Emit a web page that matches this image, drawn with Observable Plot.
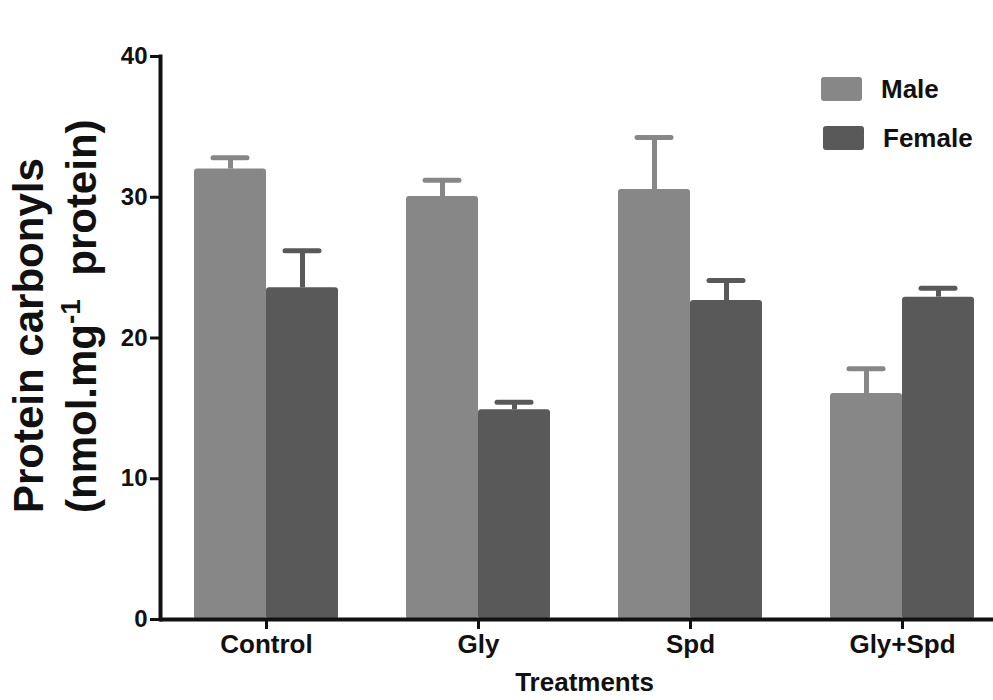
<!DOCTYPE html>
<html><head><meta charset="utf-8">
<script src="https://cdn.jsdelivr.net/npm/d3@7"></script>
<script src="https://cdn.jsdelivr.net/npm/@observablehq/plot@0.6"></script>
<style>
body{margin:0;background:#fff;}
#wrap{position:relative;width:993px;height:700px;font-family:"Liberation Sans",Arial,sans-serif;}
.lg{position:absolute;display:flex;align-items:center;font-weight:bold;font-size:26px;line-height:24px;height:24px;color:#111;}
.sw{width:41px;height:24px;border-radius:3px;margin-right:19px;}
</style></head><body><div id="wrap"></div>
<script>
const treatments = ["Control", "Gly", "Spd", "Gly+Spd"];
const sexes = ["Male", "Female"];
const maleMean = [32.0, 30.05, 30.55, 16.05];
const maleErr = [0.8, 1.15, 3.7, 1.77];
const femaleMean = [23.57, 14.9, 22.66, 22.9];
const femaleErr = [2.63, 0.54, 1.43, 0.64];
const yTicks = [0, 10, 20, 30, 40];
const colors = ["#878787", "#595959"];
const xLabel = "Treatments";
const yLabel1 = "Protein carbonyls";

const rows = [];
treatments.forEach((t, i) => {
  rows.push({treatment: t, sex: "Male", mean: maleMean[i], hi: maleMean[i] + maleErr[i]});
  rows.push({treatment: t, sex: "Female", mean: femaleMean[i], hi: femaleMean[i] + femaleErr[i]});
});

const font = '"Liberation Sans", Arial, sans-serif';
const plot = Plot.plot({
  width: 993, height: 700,
  marginLeft: 160, marginRight: -15, marginTop: 56, marginBottom: 81,
  style: {fontFamily: font, fontWeight: "bold", background: "#fff", color: "#111", overflow: "hidden"},
  fx: {domain: treatments, padding: 0, label: null},
  x: {domain: sexes, paddingInner: 0, paddingOuter: 0.472, axis: null},
  y: {domain: [0, 40]},
  color: {domain: sexes, range: colors},
  marks: [
    Plot.barY(rows, {fx: "treatment", x: "sex", y: "mean", fill: "sex", rx: 3}),
    Plot.ruleX(rows, {fx: "treatment", x: "sex", y1: "mean", y2: "hi", stroke: "sex", strokeWidth: 5}),
    Plot.tickY(rows, {fx: "treatment", x: "sex", y: "hi", stroke: "sex", strokeWidth: 5, strokeLinecap: "round", insetLeft: 19, insetRight: 19}),
    Plot.ruleY([0], {stroke: "#111", strokeWidth: 4}),
    Plot.frame({anchor: "left", fx: () => treatments[0], stroke: "#111", strokeWidth: 4}),
    Plot.axisY({ticks: yTicks, tickSize: 10, tickPadding: 3, strokeWidth: 3, fontSize: 24, label: null}),
    Plot.axisFx({anchor: "bottom", tickSize: 10, tickPadding: 5, strokeWidth: 3, fontSize: 26, label: xLabel, labelAnchor: "center", labelOffset: 71})
  ]
});

const svg = d3.select(plot);
svg.append("text")
  .attr("transform", "translate(43,513) rotate(-90)")
  .attr("text-anchor", "start")
  .attr("font-size", 42).attr("font-weight", "bold").attr("fill", "#111")
  .text(yLabel1);
const t2 = svg.append("text")
  .attr("transform", "translate(96,513) rotate(-90)")
  .attr("text-anchor", "start")
  .attr("font-size", 42).attr("font-weight", "bold").attr("fill", "#111");
t2.append("tspan").text("(nmol.mg");
t2.append("tspan").attr("dy", -16).attr("font-size", 28).text("-1");
t2.append("tspan").attr("dy", 16).text("\u00a0 protein)");

const wrap = document.getElementById("wrap");
wrap.appendChild(plot);
const legendPos = [[821, 77], [823, 126]];
sexes.forEach((s, i) => {
  const d = document.createElement("div");
  d.className = "lg";
  d.style.left = legendPos[i][0] + "px";
  d.style.top = legendPos[i][1] + "px";
  d.innerHTML = `<div class="sw" style="background:${colors[i]}"></div><span>${s}</span>`;
  wrap.appendChild(d);
});
</script></body></html>
